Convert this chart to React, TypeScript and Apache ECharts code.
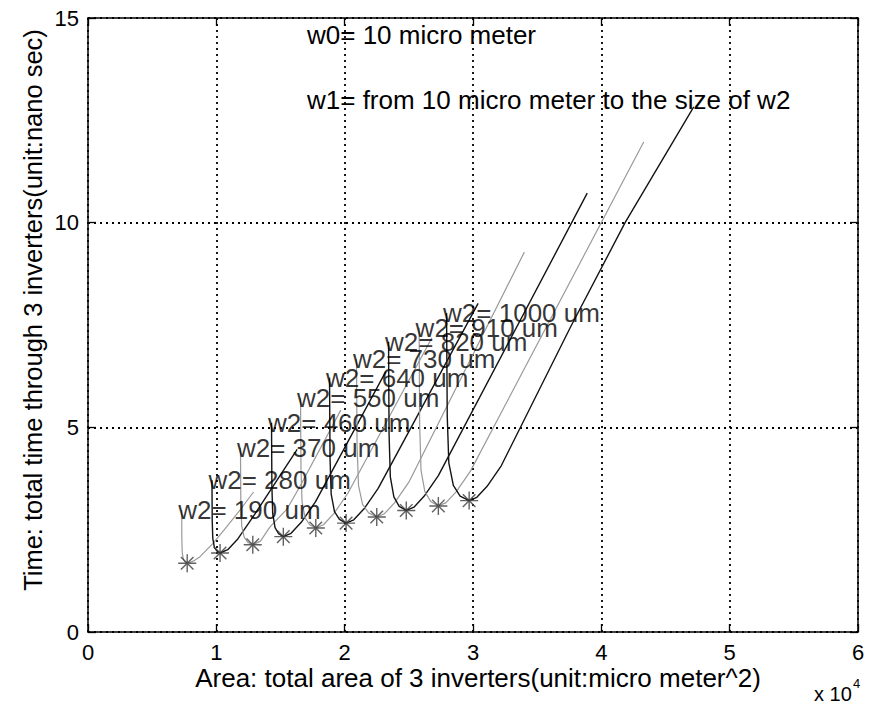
import React, { useEffect, useRef } from "react";
import * as echarts from "echarts";

// w2 sizes of the ten sweeps (w1 from 10 um up to w2)
const w2Labels = [
  "w2= 190 um",
  "w2= 280 um",
  "w2= 370 um",
  "w2= 460 um",
  "w2= 550 um",
  "w2= 640 um",
  "w2= 730 um",
  "w2= 820 um",
  "w2= 910 um",
  "w2= 1000 um",
];

// [area (um^2), time (ns)]
const curve190: [number, number][] = [
  [7300, 2.98], [7313, 2.27], [7343, 1.94], [7429, 1.78], [7558, 1.71], [7730, 1.68],
  [8200, 1.73], [8730, 1.84], [9760, 2.17], [10800, 2.57], [11840, 2.98], [12900, 3.42],
];
const curve280: [number, number][] = [
  [9660, 3.71], [9679, 2.73], [9723, 2.29], [9849, 2.07], [10038, 1.98], [10290, 1.93],
  [10890, 2.01], [11690, 2.28], [12790, 2.78], [16300, 4.46],
];
const curve370: [number, number][] = [
  [11880, 4.5], [11909, 3.2], [11976, 2.6], [12168, 2.32], [12456, 2.19], [12840, 2.13],
  [13440, 2.22], [14180, 2.57], [15500, 3.0], [16500, 3.55], [19700, 5.42],
];
const curve460: [number, number][] = [
  [14300, 5.11], [14328, 3.58], [14392, 2.89], [14576, 2.55], [14852, 2.4], [15220, 2.33],
  [15820, 2.41], [16620, 2.68], [17720, 3.18], [23200, 6.36],
];
const curve550: [number, number][] = [
  [16560, 5.72], [16596, 3.97], [16679, 3.18], [16917, 2.79], [17274, 2.62], [17750, 2.54],
  [18350, 2.62], [19150, 2.89], [20250, 3.39], [26800, 7.19],
];
const curve640: [number, number][] = [
  [18820, 6.21], [18859, 4.26], [18949, 3.37], [19207, 2.94], [19594, 2.75], [20110, 2.66],
  [20710, 2.74], [21510, 3.01], [22610, 3.51], [30400, 8.03],
];
const curve730: [number, number][] = [
  [20920, 6.67], [20967, 4.55], [21078, 3.58], [21394, 3.12], [21868, 2.91], [22500, 2.81],
  [23100, 2.89], [23900, 3.16], [25000, 3.66], [34000, 9.28],
];
const curve820: [number, number][] = [
  [23420, 7.09], [23461, 4.82], [23558, 3.79], [23834, 3.3], [24248, 3.07], [24800, 2.97],
  [25400, 3.05], [26200, 3.32], [27300, 3.82], [38900, 10.72],
];
const curve910: [number, number][] = [
  [25800, 7.43], [25845, 5.04], [25950, 3.95], [26250, 3.43], [26700, 3.19], [27300, 3.08],
  [27900, 3.16], [28700, 3.43], [29800, 3.93], [43300, 11.97],
];
const curve1000: [number, number][] = [
  [27940, 7.79], [27993, 5.27], [28116, 4.13], [28468, 3.58], [28996, 3.32], [29700, 3.21],
  [30300, 3.29], [31100, 3.56], [32200, 4.06], [37600, 7.45], [41850, 10.0], [47200, 12.83],
];

const curves = [
  curve190, curve280, curve370, curve460, curve550,
  curve640, curve730, curve820, curve910, curve1000,
];

// minimum-delay points (asterisks)
const starArea = [7730, 10290, 12840, 15220, 17750, 20110, 22500, 24800, 27300, 29700];
const starTime = [1.68, 1.93, 2.13, 2.33, 2.54, 2.66, 2.81, 2.97, 3.08, 3.21];

const noteLines = ["w0= 10 micro meter", "w1= from 10 micro meter to the size of w2"];
const xTitle = "Area: total area of 3 inverters(unit:micro meter^2)";
const yTitle = "Time: total time through 3 inverters(unit:nano sec)";

export default function App() {
  const ref = useRef<HTMLDivElement>(null);

  useEffect(() => {
    if (!ref.current) return;
    const chart = echarts.init(ref.current, null, { renderer: "svg" });
    const font = "'Liberation Sans', Arial, Helvetica, sans-serif";

    const axisLine = { show: true, onZero: false, lineStyle: { color: "#000", width: 1.5 } };
    const axisTick = { show: true, inside: true, length: 8, lineStyle: { color: "#000", width: 1.3 } };
    const gridLine = { show: true, lineStyle: { type: [2, 4] as any, color: "#000", width: 1.8 } };

    const lineSeries = curves.map((c, i) => ({
      type: "line",
      data: c,
      symbol: "none",
      showSymbol: false,
      smooth: false,
      silent: true,
      z: 3,
      lineStyle: {
        color: i % 2 === 1 ? "#141414" : "#9a9a9a",
        width: i % 2 === 1 ? 1.4 : 1.2,
        join: "round",
      },
    }));

    const option: any = {
      animation: false,
      grid: { left: 88, right: 14, top: 18, bottom: 79, containLabel: false },
      xAxis: [
        {
          type: "value",
          min: 0,
          max: 60000,
          interval: 10000,
          position: "bottom",
          axisLine,
          axisTick,
          axisLabel: {
            formatter: (v: number) => String(v / 10000),
            fontSize: 22,
            color: "#000",
            margin: 9,
            fontFamily: font,
          },
          splitLine: gridLine,
        },
        {
          type: "value",
          min: 0,
          max: 60000,
          interval: 10000,
          position: "top",
          axisLine,
          axisTick,
          axisLabel: { show: false },
          splitLine: { show: false },
        },
      ],
      yAxis: [
        {
          type: "value",
          min: 0,
          max: 15,
          interval: 5,
          position: "left",
          axisLine,
          axisTick,
          axisLabel: { fontSize: 22, color: "#000", margin: 9, fontFamily: font },
          splitLine: gridLine,
        },
        {
          type: "value",
          min: 0,
          max: 15,
          interval: 5,
          position: "right",
          axisLine,
          axisTick,
          axisLabel: { show: false },
          splitLine: { show: false },
        },
      ],
      series: [
        ...lineSeries,
        {
          type: "scatter",
          data: starArea.map((x, i) => [x, starTime[i]]),
          symbol: "path://M10,0L10,20M0,10L20,10M3,3L17,17M3,17L17,3",
          symbolSize: 18,
          silent: true,
          z: 4,
          itemStyle: { color: "transparent", borderColor: "#3a3a3a", borderWidth: 1.4 },
        },
        {
          type: "scatter",
          data: curves.map((c, i) => ({ value: c[0], name: w2Labels[i] })),
          symbolSize: 1,
          silent: true,
          z: 5,
          itemStyle: { color: "transparent" },
          label: {
            show: true,
            position: "right",
            distance: 0,
            offset: [-4, 0],
            formatter: (p: any) => p.name,
            fontSize: 26,
            color: "#000",
            fontFamily: font,
          },
        },
      ],
      graphic: [
        {
          type: "text",
          x: 307,
          y: 35,
          silent: true,
          style: { text: noteLines[0], fontSize: 26, fontFamily: font, fill: "#000", align: "left", verticalAlign: "middle" },
        },
        {
          type: "text",
          x: 307,
          y: 100,
          silent: true,
          style: { text: noteLines[1], fontSize: 26, fontFamily: font, fill: "#000", align: "left", verticalAlign: "middle" },
        },
        {
          type: "text",
          x: 478,
          y: 678,
          silent: true,
          style: { text: xTitle, fontSize: 26, fontFamily: font, fill: "#000", align: "center", verticalAlign: "middle" },
        },
        {
          type: "text",
          x: 33,
          y: 310,
          rotation: Math.PI / 2,
          silent: true,
          style: { text: yTitle, fontSize: 25.5, fontFamily: font, fill: "#000", align: "center", verticalAlign: "middle" },
        },
        {
          type: "text",
          x: 814,
          y: 694,
          silent: true,
          style: { text: "x 10", fontSize: 20, fontFamily: font, fill: "#000", align: "left", verticalAlign: "middle" },
        },
        {
          type: "text",
          x: 853,
          y: 683,
          silent: true,
          style: { text: "4", fontSize: 13, fontFamily: font, fill: "#000", align: "left", verticalAlign: "middle" },
        },
      ],
    };

    chart.setOption(option);
    return () => chart.dispose();
  }, []);

  return (
    <div
      ref={ref}
      style={{ position: "fixed", left: 0, top: 0, width: 872, height: 711, background: "#fff" }}
    />
  );
}
